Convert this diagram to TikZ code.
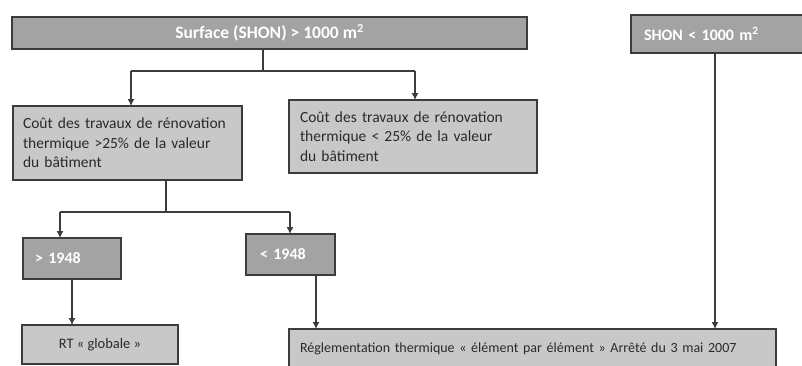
\documentclass[tikz,border=0pt]{standalone}
\usepackage{fontspec}
\setmainfont{Carlito}
\usetikzlibrary{arrows.meta,calc}
\definecolor{darkfill}{HTML}{A3A3A3}
\definecolor{lightfill}{HTML}{C8C8C8}
\definecolor{edge}{HTML}{3C3C3C}
\definecolor{ink}{HTML}{2A2A2A}
\begin{document}
\begin{tikzpicture}[x=1pt,y=-1pt,
  basebox/.style={draw=edge, line width=1.3pt, rectangle, anchor=north west, inner sep=0pt, outer sep=0pt},
  darkbox/.style={basebox, fill=darkfill, text=white, font=\fontsize{16}{19}\selectfont\bfseries},
  lightbox/.style={basebox, fill=lightfill, text=ink, font=\fontsize{15.5}{19.5}\selectfont},
  conn/.style={draw=edge, line width=1.1pt},
  arr/.style={conn, -{Latex[length=7pt,width=7pt]}}]
\clip (0,0) rectangle (802,365);
\fill[white] (0,0) rectangle (802,365);
% boxes
\node[darkbox, minimum width=515pt, minimum height=32pt, align=center, font=\fontsize{17.5}{19}\selectfont\bfseries] (b1) at (12,17) {Surface (SHON) > 1000 m\textsuperscript{2}};
\node[darkbox, minimum width=200pt, minimum height=38pt, text width=174pt, align=left] (shon) at (631,15) {SHON < 1000 m\textsuperscript{2}};
\node[lightbox, minimum width=229pt, minimum height=74pt, text width=209pt, align=left] (b2) at (13,106) {Coût des travaux de rénovation\\thermique >25\% de la valeur\\du bâtiment};
\node[lightbox, minimum width=248pt, minimum height=73pt, text width=226pt, align=left] (b3) at (289,100) {Coût des travaux de rénovation\\thermique < 25\% de la valeur\\du bâtiment};
\node[darkbox, minimum width=98pt, minimum height=41pt, text width=74pt, align=left] (b4) at (23,238) {> 1948};
\node[darkbox, minimum width=89pt, minimum height=41pt, text width=61pt, align=left] (b5) at (246,234) {< 1948};
\node[lightbox, minimum width=156pt, minimum height=39pt, align=center, font=\fontsize{14.5}{16}\selectfont] (b6) at (22,325) {RT « globale »};
\node[lightbox, minimum width=487pt, minimum height=40pt, text width=465pt, align=left, font=\fontsize{14}{16}\selectfont] (b7) at (289,329) {Réglementation thermique « élément par élément » Arrêté du 3 mai 2007};
% junctions
\coordinate (j1) at (263,71);
\coordinate (j1l) at (131,71);
\coordinate (j1r) at (415,71);
\coordinate (j2) at (166,212);
\coordinate (j2l) at (60,212);
\coordinate (j2r) at (290,212);
\coordinate (d4) at (72,0);
\coordinate (d5) at (316,0);
\coordinate (ds) at (715,0);
% connectors
\draw[conn] (b1.south -| j1) -- (j1);
\draw[conn] (j1l) -- (j1r);
\draw[arr] (j1l) -- (j1l |- b2.north);
\draw[arr] (j1r) -- (j1r |- b3.north);
\draw[conn] (b2.south -| j2) -- (j2);
\draw[conn] (j2l) -- (j2r);
\draw[arr] (j2l) -- (j2l |- b4.north);
\draw[arr] (j2r) -- (j2r |- b5.north);
\draw[arr] (b4.south -| d4) -- (b6.north -| d4);
\draw[arr] (b5.south -| d5) -- (b7.north -| d5);
\draw[arr] (shon.south -| ds) -- (b7.north -| ds);
\end{tikzpicture}
\end{document}
